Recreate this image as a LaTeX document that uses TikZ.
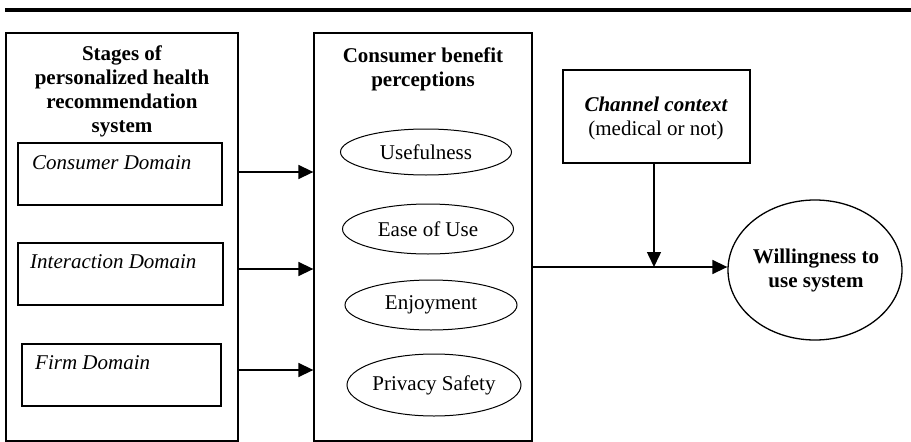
\documentclass[tikz,border=0pt]{standalone}
\usepackage{fontspec}
\setmainfont{Liberation Serif}
\usetikzlibrary{shapes.geometric,arrows.meta}
\begin{document}
\begin{tikzpicture}[x=1pt,y=-1pt,
  box/.style={draw,line width=1.3pt,rectangle,inner sep=0pt},
  oval/.style={draw,line width=1pt,ellipse,inner sep=0pt,font=\fontsize{21}{24}\selectfont},
  txt/.style={inner sep=0pt,align=center,font=\fontsize{21}{24}\selectfont},
  arr/.style={line width=1.5pt,-{Triangle[length=15pt,width=14pt]}}
]
\useasboundingbox (0,0) rectangle (911,442);
% top rule
\draw[line width=4pt] (5,10) -- (911,10);
% left outer box
\node[box,minimum width=232pt,minimum height=408pt] (stages) at (122,237) {};
\node[txt,font=\fontsize{21}{24}\selectfont\bfseries] (stagesT) at (122,91) {Stages of\\personalized health\\recommendation\\system};
\node[box,minimum width=204pt,minimum height=62pt] (cd) at (120,174) {};
\node[txt,anchor=west,font=\fontsize{21}{24}\selectfont\itshape] (cdT) at (32,163) {Consumer Domain};
\node[box,minimum width=205pt,minimum height=62pt] (id) at (120.5,274) {};
\node[txt,anchor=west,font=\fontsize{21}{24}\selectfont\itshape] (idT) at (30,262) {Interaction Domain};
\node[box,minimum width=199pt,minimum height=62pt] (fd) at (121.5,375) {};
\node[txt,anchor=west,font=\fontsize{21}{24}\selectfont\itshape] (fdT) at (35,363) {Firm Domain};
% middle box
\node[box,minimum width=218pt,minimum height=408pt] (cbp) at (423,237) {};
\node[txt,font=\fontsize{21}{24}\selectfont\bfseries] (cbpT) at (423,69) {Consumer benefit\\perceptions};
\node[oval,minimum width=171pt,minimum height=46pt] (use) at (426,152) {Usefulness};
\node[oval,minimum width=171pt,minimum height=50pt] (ease) at (428,229) {Ease of Use};
\node[oval,minimum width=172pt,minimum height=50pt] (enj) at (431,305) {Enjoyment};
\node[oval,minimum width=172pt,minimum height=62pt] (priv) at (434,385) {Privacy Safety};
% channel context
\node[box,minimum width=187pt,minimum height=93pt] (chan) at (656.5,116.5) {};
\node[txt] (chanT) at (656,118) {{\bfseries\itshape Channel context}\\(medical or not)};
% willingness
\node[draw,line width=1.3pt,ellipse,minimum width=174pt,minimum height=140pt,inner sep=0pt] (will) at (815,270) {};
\node[txt,font=\fontsize{21}{24}\selectfont\bfseries] (willT) at (816,270) {Willingness to\\use system};
% arrows left -> middle
\coordinate (a1) at (0,172);
\coordinate (a2) at (0,269);
\coordinate (a3) at (0,370);
\draw[arr] (stages.east |- a1) -- (cbp.west |- a1);
\draw[arr] (stages.east |- a2) -- (cbp.west |- a2);
\draw[arr] (stages.east |- a3) -- (cbp.west |- a3);
% middle -> willingness
\coordinate (m) at (0,267);
\coordinate (join) at (654,267);
\draw[arr] (cbp.east |- m) -- (will.west |- m);
\draw[arr] (chan.south -| join) -- (join);
\end{tikzpicture}
\end{document}
